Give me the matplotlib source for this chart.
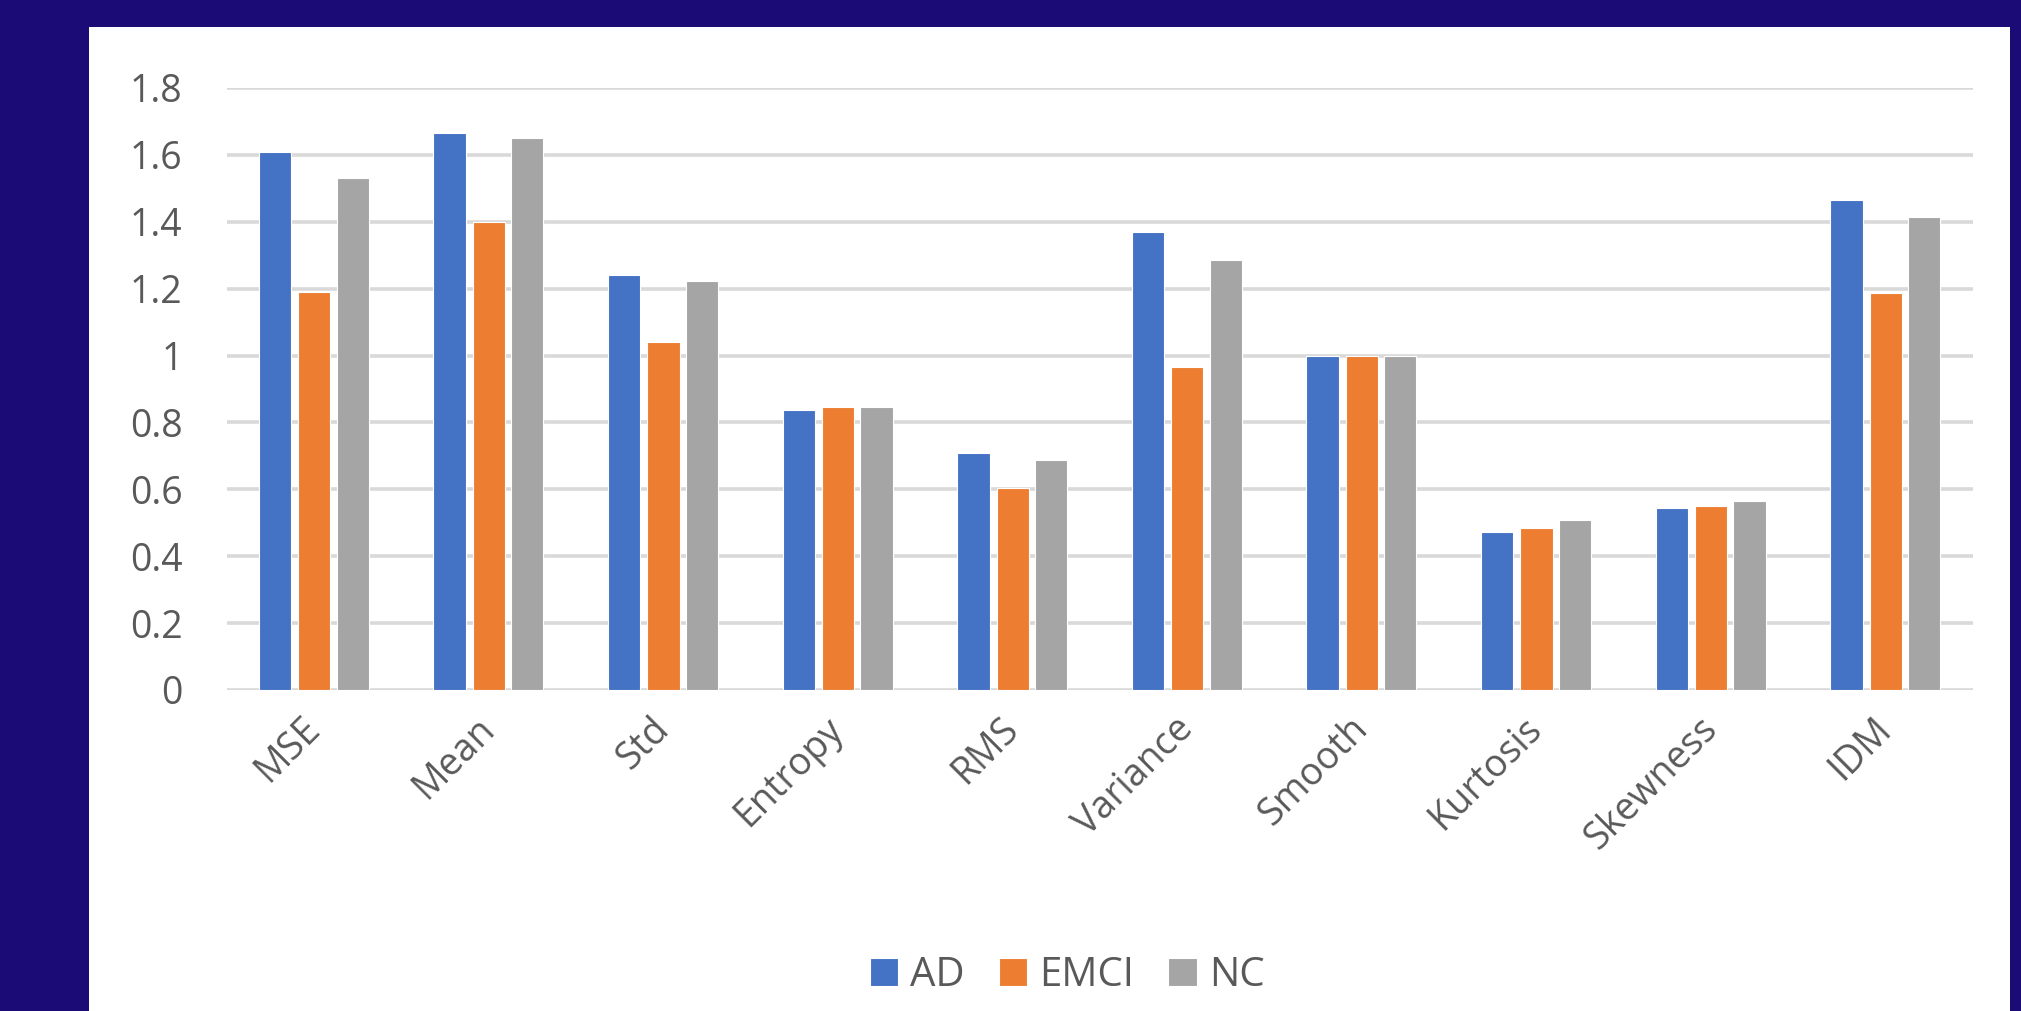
import numpy as np
import matplotlib.pyplot as plt
from matplotlib.patches import Rectangle

# data
features = ['MSE', 'Mean', 'Std', 'Entropy', 'RMS', 'Variance', 'Smooth',
            'Kurtosis', 'Skewness', 'IDM']
ad = [1.61, 1.665, 1.24, 0.837, 0.709, 1.37, 1.0, 0.473, 0.545, 1.465]
emci = [1.19, 1.40, 1.04, 0.846, 0.604, 0.966, 1.0, 0.484, 0.55, 1.187]
nc = [1.53, 1.65, 1.223, 0.846, 0.688, 1.286, 1.0, 0.508, 0.565, 1.415]
series_names = ['AD', 'EMCI', 'NC']
yticks = [0, 0.2, 0.4, 0.6, 0.8, 1, 1.2, 1.4, 1.6, 1.8]
ytick_labels = ['0', '0.2', '0.4', '0.6', '0.8', '1', '1.2', '1.4', '1.6', '1.8']

colors = ['#4472c4', '#ed7d31', '#a5a5a5']
navy = '#1b0b77'
text_col = '#595959'

plt.rcParams['font.family'] = ['Open Sans', 'DejaVu Sans']

W, H = 2021, 1011
fig = plt.figure(figsize=(W / 100, H / 100), dpi=100, facecolor=navy)

# white panel inside the navy frame
fig.patches.append(Rectangle((89 / W, 0), (2010 - 89) / W, 1 - 27 / H,
                             transform=fig.transFigure, facecolor='white',
                             edgecolor='none', zorder=-5))

ax = fig.add_axes([227 / W, 1 - 690 / H, (1973 - 227) / W, (690 - 88) / H])
ax.set_facecolor('none')
ax.set_zorder(2)

x = np.arange(len(features))
width = 0.185
offsets = [-0.225, 0.0, 0.22]
for vals, off, c, name in zip([ad, emci, nc], offsets, colors, series_names):
    ax.bar(x + off, vals, width, color=c, edgecolor='white', linewidth=0.8,
           label=name, zorder=3)

ax.set_xlim(-0.5, len(features) - 0.5)
ax.set_ylim(0, 1.8)
ax.set_yticks(yticks)
ax.set_yticklabels(ytick_labels)
ax.yaxis.grid(True, color='#d9d9d9', linewidth=2.6, zorder=0)
ax.set_axisbelow(True)
for s in ax.spines.values():
    s.set_visible(False)

ax.tick_params(axis='y', length=0, pad=32, labelsize=27, labelcolor=text_col)
ax.tick_params(axis='x', length=0, pad=24, labelsize=27, labelcolor=text_col)
ax.set_xticks(x)
ax.set_xticklabels(features, rotation=45, ha='right', va='center',
                   rotation_mode='anchor')

leg = fig.legend(loc='center', bbox_to_anchor=(1067 / W, 1 - 976 / H), ncol=3,
                 frameon=False, fontsize=29, handlelength=0.7, handleheight=0.7,
                 handletextpad=0.3, columnspacing=0.85, labelcolor=text_col)

fig.savefig('out.png', dpi=100, facecolor=navy)
